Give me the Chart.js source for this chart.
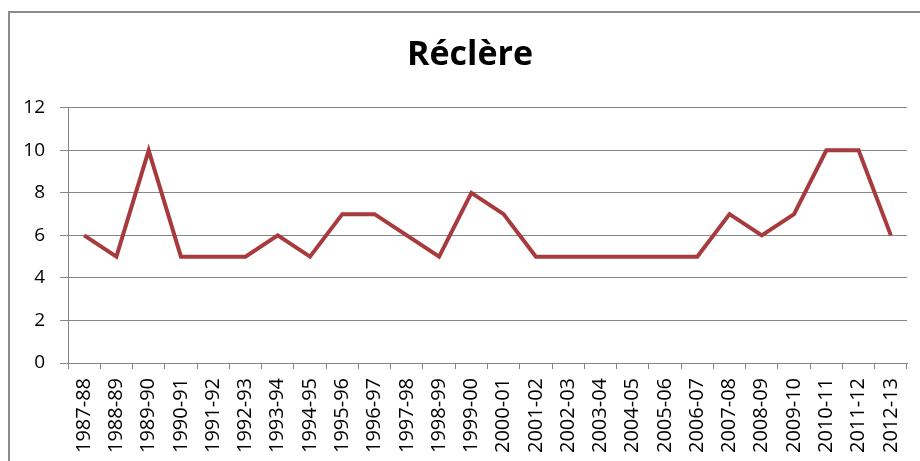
<!DOCTYPE html>
<html>
<head>
<meta charset="utf-8">
<script src="https://cdn.jsdelivr.net/npm/chart.js@4/dist/chart.umd.min.js"></script>
<style>
  html, body { margin: 0; padding: 0; background: #fff; }
  #wrap { width: 920px; height: 461px; position: relative; }
</style>
</head>
<body>
<div id="wrap"><canvas id="reclere-chart" width="920" height="461"></canvas></div>
<script>
// Données du graphique
const saisons = ['1987-88', '1988-89', '1989-90', '1990-91', '1991-92', '1992-93', '1993-94',
    '1994-95', '1995-96', '1996-97', '1997-98', '1998-99', '1999-00', '2000-01', '2001-02',
    '2002-03', '2003-04', '2004-05', '2005-06', '2006-07', '2007-08', '2008-09', '2009-10',
    '2010-11', '2011-12', '2012-13'];
const valeurs = [6, 5, 10, 5, 5, 5, 6, 5, 7, 7, 6, 5, 8, 7, 5, 5, 5, 5, 5, 5, 7, 6, 7, 10, 10, 6];
const yTicks = [0, 2, 4, 6, 8, 10, 12];

const police = "'Open Sans', sans-serif";
const gris = '#868686';

// cadre gris autour du graphique (coupé à droite et en bas comme l'original)
const cadre = {
    id: 'cadre',
    beforeDraw(chart) {
        const c = chart.ctx;
        c.save();
        c.fillStyle = '#fff';
        c.fillRect(0, 0, chart.width, chart.height);
        c.strokeStyle = '#8c8c8c';
        c.lineWidth = 2;
        c.strokeRect(9, 12, 960, 520);
        c.restore();
    },
    // le titre est centré sur tout le cadre, pas seulement sur la zone du graphique
    afterLayout(chart) {
        const t = chart.titleBlock;
        if (t) {
            t.left = 33;
            t.right = 907;
            t.width = t.right - t.left;
        }
    }
};

const ctx = document.getElementById('reclere-chart').getContext('2d');
const chart = new Chart(ctx, {
    type: 'line',
    data: {
        labels: saisons,
        datasets: [{
            label: 'Réclère',
            data: valeurs,
            borderColor: '#A63A3C',
            borderWidth: 4,
            pointRadius: 0,
            tension: 0,
            fill: false
        }]
    },
    options: {
        responsive: false,
        animation: false,
        layout: { padding: { left: 20, right: 13, top: 0, bottom: 0 } },
        plugins: {
            legend: { display: false },
            tooltip: { enabled: false },
            title: {
                display: true,
                text: 'Réclère',
                color: '#000',
                font: { family: police, size: 34, weight: 'bold' },
                padding: { top: 35, bottom: 32 }
            }
        },
        scales: {
            x: {
                offset: true,
                grid: {
                    offset: true,
                    drawOnChartArea: false,
                    color: gris,
                    tickLength: 6
                },
                border: { color: gris, width: 1 },
                ticks: {
                    color: '#000',
                    font: { family: police, size: 20 },
                    minRotation: 90,
                    maxRotation: 90,
                    autoSkip: false,
                    padding: 9
                },
                afterFit(scale) {
                    scale.height = 98;
                    // pas de marge en plus pour les étiquettes aux extrémités
                    scale.paddingLeft = 0;
                    scale.paddingRight = 0;
                }
            },
            y: {
                min: 0,
                max: 12,
                afterBuildTicks(scale) { scale.ticks = yTicks.map(v => ({ value: v })); },
                grid: { color: gris, tickLength: 8 },
                border: { color: gris, width: 1 },
                ticks: {
                    color: '#000',
                    font: { family: police, size: 19 },
                    padding: 15
                },
                afterFit(scale) { scale.width = 48; }
            }
        }
    },
    plugins: [cadre]
});
</script>
</body>
</html>
